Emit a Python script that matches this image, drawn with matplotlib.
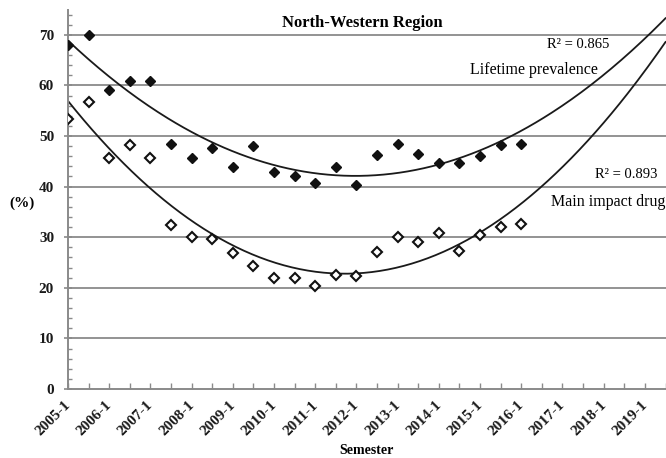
import numpy as np
import matplotlib
matplotlib.use("Agg")
import matplotlib.pyplot as plt
from matplotlib.transforms import ScaledTranslation

# semesters 2005-1 .. 2019-2, labelled every first semester
years = list(range(2005, 2020))
semesters = [f"{y}-{s}" for y in years for s in (1, 2)]
tick_labels = [f"{y}-1" for y in years]

# lifetime prevalence (%), 2005-1 .. 2016-1
lifetime = [68.0, 70.0, 59.1, 60.9, 60.8, 48.4, 45.7, 47.6, 43.9, 48.0, 42.9, 42.0,
            40.8, 43.8, 40.3, 46.2, 48.5, 46.4, 44.6, 44.7, 46.0, 48.2, 48.4]
# main impact drug (%), 2005-1 .. 2016-1
main_drug = [53.4, 56.7, 45.7, 48.2, 45.6, 32.4, 30.1, 29.6, 26.8, 24.4, 21.9, 21.9,
             20.4, 22.5, 22.3, 27.1, 30.1, 29.1, 30.8, 27.3, 30.4, 32.0, 32.6]

plt.rcParams['font.family'] = ['Liberation Serif', 'DejaVu Serif']

fig = plt.figure(figsize=(6.66, 4.58), dpi=100)
ax = fig.add_axes([68 / 666, 1 - 389 / 458, 597.5 / 666, 379.5 / 458])

grey = '#8a8a8a'
x_all = np.arange(len(semesters))

# horizontal gridlines
for v in range(10, 80, 10):
    ax.axhline(v, color=grey, lw=1.3, zorder=1)

# second order polynomial trends, projected to the end of the axis
x_data = np.arange(len(lifetime))
x_fit = np.linspace(0, len(semesters) - 1, 300)
for series in (lifetime, main_drug):
    coef = np.polyfit(x_data, series, 2)
    ax.plot(x_fit, np.polyval(coef, x_fit), color='#1a1a1a', lw=1.3, zorder=2)

ax.plot(x_data, lifetime, ls='none', marker='D', ms=5.2, color='#111111', zorder=3)
ax.plot(x_data, main_drug, ls='none', marker='D', ms=5.2, mfc='white',
        mec='#111111', mew=1.5, zorder=3)

ax.set_xlim(0, len(semesters) - 1)
ax.set_ylim(0, 75)

ax.set_yticks(range(0, 80, 10))
ax.set_yticks(range(0, 76, 2), minor=True)
ax.set_yticklabels([str(v) for v in range(0, 80, 10)], fontweight='bold', fontsize=11)
ax.tick_params(axis='y', which='major', direction='inout', length=6, color=grey,
               width=1.2, pad=7, labelcolor='#1a1a1a')
ax.tick_params(axis='y', which='minor', direction='in', length=3, color=grey, width=1)

ax.set_xticks(x_all[::2])
ax.set_xticks(x_all, minor=True)
ax.set_xticklabels(tick_labels, rotation=45, ha='right', fontweight='bold',
                   fontsize=11, color='#1a1a1a')
ax.tick_params(axis='x', which='both', direction='in', length=4, color=grey, width=1,
               pad=7)
shift = ScaledTranslation(5 / 100, 0, fig.dpi_scale_trans)
for lab in ax.get_xticklabels():
    lab.set_transform(lab.get_transform() + shift)

for side in ('top', 'right'):
    ax.spines[side].set_visible(False)
for side in ('left', 'bottom'):
    ax.spines[side].set_color(grey)
    ax.spines[side].set_linewidth(1.4)

ax.text(14.3, 72.4, 'North-Western Region', ha='center', va='center',
        fontsize=12, fontweight='bold')
ax.text(26.3, 68.0, 'R² = 0.865', ha='right', va='center', fontsize=10.5)
ax.text(25.7, 63.0, 'Lifetime prevalence', ha='right', va='center', fontsize=11.5)
ax.text(28.6, 42.3, 'R² = 0.893', ha='right', va='center', fontsize=10.5)
ax.text(29.0, 37.0, 'Main impact drug', ha='right', va='center', fontsize=11.5)

fig.text(22 / 666, 1 - 203 / 458, '(%)', ha='center', va='center',
         fontsize=11, fontweight='bold')
fig.text(367 / 666, 1 - 450 / 458, 'Semester', ha='center', va='center',
         fontsize=10, fontweight='bold')

fig.savefig('out.png', dpi=100)
